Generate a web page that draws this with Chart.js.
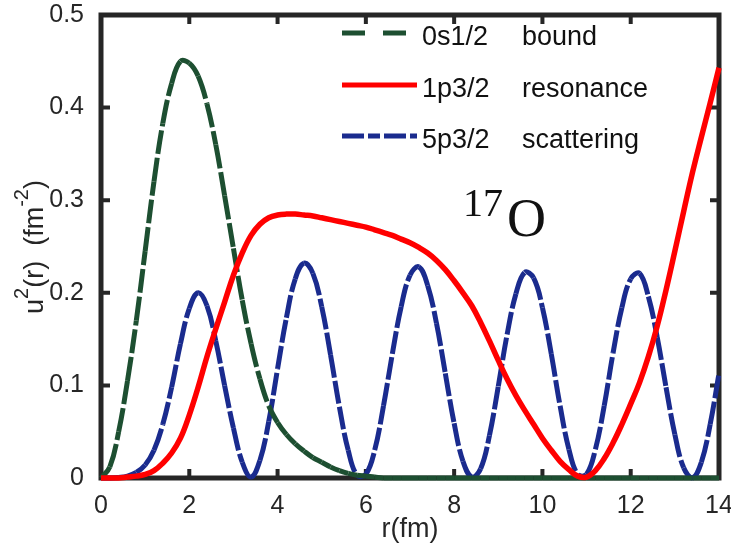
<!DOCTYPE html>
<html>
<head>
<meta charset="utf-8">
<script src="https://cdn.jsdelivr.net/npm/chart.js@4.4.1/dist/chart.umd.min.js"></script>
<style>
html,body{margin:0;padding:0;background:#ffffff;}
#wrap{width:731px;height:544px;position:relative;}
</style>
</head>
<body>
<div id="wrap"><canvas id="chart" width="731" height="544"></canvas></div>
<script>
// ---- data ----
const rValues = [
  0, 0.2, 0.4, 0.6, 0.8, 1.0, 1.2, 1.4, 1.6, 1.8,
  2.0, 2.2, 2.4, 2.6, 2.8, 3.0, 3.2, 3.4, 3.6, 3.8,
  4.0, 4.2, 4.4, 4.6, 4.8, 5.0, 5.2, 5.4, 5.6, 5.8,
  6.0, 6.2, 6.4, 6.6, 6.8, 7.0, 7.2, 7.4, 7.6, 7.8,
  8.0, 8.2, 8.4, 8.6, 8.8, 9.0, 9.2, 9.4, 9.6, 9.8,
  10.0, 10.2, 10.4, 10.6, 10.8, 11.0, 11.2, 11.4, 11.6, 11.8,
  12.0, 12.2, 12.4, 12.6, 12.8, 13.0, 13.2, 13.4, 13.6, 13.8,
  14.0
];
// 0s1/2 bound
const boundValues = [
  0, 0.012, 0.05, 0.105, 0.17, 0.245, 0.32, 0.383, 0.426, 0.450,
  0.448, 0.434, 0.404, 0.36, 0.305, 0.248, 0.192, 0.145, 0.107, 0.078,
  0.06, 0.047, 0.037, 0.029, 0.022, 0.017, 0.012, 0.008, 0.005, 0.003,
  0.002, 0.001, 0, 0, 0, 0, 0, 0, 0, 0,
  0, 0, 0, 0, 0, 0, 0, 0, 0, 0,
  0, 0, 0, 0, 0, 0, 0, 0, 0, 0,
  0, 0, 0, 0, 0, 0, 0, 0, 0, 0,
  0
];
// 1p3/2 resonance
const resonanceValues = [
  0, 0, 0, 0.001, 0.002, 0.004, 0.008, 0.016, 0.027, 0.043,
  0.068, 0.098, 0.131, 0.161, 0.19, 0.219, 0.243, 0.262, 0.274, 0.281,
  0.284, 0.285, 0.285, 0.284, 0.283, 0.281, 0.279, 0.277, 0.275, 0.273,
  0.271, 0.268, 0.265, 0.262, 0.258, 0.254, 0.249, 0.243, 0.235, 0.225,
  0.213, 0.200, 0.186, 0.168, 0.148, 0.127, 0.107, 0.089, 0.073, 0.058,
  0.043, 0.03, 0.018, 0.009, 0.002, 0.001, 0.008, 0.021, 0.038, 0.058,
  0.08, 0.103, 0.131, 0.164, 0.203, 0.245, 0.288, 0.33, 0.368, 0.405,
  0.443
];
// 5p3/2 scattering
const scatteringValues = [
  0, 0, 0.0005, 0.002, 0.006, 0.014, 0.03, 0.058, 0.098, 0.145,
  0.183, 0.2, 0.186, 0.148, 0.1, 0.054, 0.017, 0.001, 0.019, 0.061,
  0.118, 0.173, 0.215, 0.232, 0.221, 0.185, 0.133, 0.077, 0.03, 0.003,
  0.004, 0.03, 0.078, 0.134, 0.185, 0.219, 0.228, 0.208, 0.167, 0.113,
  0.059, 0.018, 0.001, 0.01, 0.046, 0.099, 0.155, 0.199, 0.222, 0.216,
  0.184, 0.134, 0.078, 0.031, 0.004, 0.004, 0.031, 0.078, 0.135, 0.184,
  0.215, 0.221, 0.196, 0.152, 0.098, 0.047, 0.011, 0, 0.017, 0.058,
  0.113
];
const xTickValues = [0, 2, 4, 6, 8, 10, 12, 14];
const yTickValues = [0, 0.1, 0.2, 0.3, 0.4, 0.5];
const seriesStates = ['0s1/2', '1p3/2', '5p3/2'];
const seriesKinds = ['bound', 'resonance', 'scattering'];
const xTitleText = 'r(fm)';
const annotationMass = '17';
const annotationSymbol = 'O';

// ---- styles ----
const GREEN = '#1d4f31';
const RED = '#ff0000';
const BLUE = '#1a2b8e';
const INK = '#262626';
const SANS = "'Liberation Sans', Arial, sans-serif";
const SERIF = "'Liberation Serif', 'Times New Roman', serif";

function pts(vals) { return rValues.map((r, i) => ({ x: r, y: vals[i] })); }
// restart dash pattern at each data vertex (as in the original rendering)
const restartDash = { borderDashOffset: c => (c.p0DataIndex % 2) * 0.01 };

const datasets = [
  { label: seriesStates[0] + ' ' + seriesKinds[0], data: pts(boundValues), borderColor: GREEN,
    borderWidth: 5, borderDash: [24, 4], legendDash: [23, 18], segment: restartDash, order: 1 },
  { label: seriesStates[1] + ' ' + seriesKinds[1], data: pts(resonanceValues), borderColor: RED,
    borderWidth: 5.5, borderDash: [], legendDash: [], order: 0 },
  { label: seriesStates[2] + ' ' + seriesKinds[2], data: pts(scatteringValues), borderColor: BLUE,
    borderWidth: 5, borderDash: [23, 3.5], legendDash: [22, 4, 12, 4], segment: restartDash, order: 2 }
].map(d => Object.assign({ pointRadius: 0, fill: false, tension: 0.4, clip: false, borderCapStyle: 'butt' }, d));

function drawRuns(ctx, runs, x, y) {
  let total = 0;
  runs.forEach(r => { ctx.font = r.font; r.w = ctx.measureText(r.t).width; total += r.w; });
  let cx = x - total / 2;
  runs.forEach(r => { ctx.font = r.font; ctx.fillText(r.t, cx, y - (r.rise || 0)); cx += r.w; });
}

const framePlugin = {
  id: 'frame',
  beforeDatasetsDraw(chart) {
    const { ctx, chartArea: a, scales: { x, y } } = chart;
    ctx.save();
    ctx.strokeStyle = INK;
    ctx.lineWidth = 5;
    ctx.lineCap = 'butt';
    ctx.strokeRect(a.left, a.top, a.right - a.left, a.bottom - a.top);
    ctx.lineWidth = 4;
    const L = 9;
    ctx.beginPath();
    xTickValues.slice(1, -1).forEach(v => {
      const p = x.getPixelForValue(v);
      ctx.moveTo(p, a.bottom); ctx.lineTo(p, a.bottom - L);
      ctx.moveTo(p, a.top); ctx.lineTo(p, a.top + L);
    });
    yTickValues.slice(1, -1).forEach(v => {
      const p = y.getPixelForValue(v);
      ctx.moveTo(a.left, p); ctx.lineTo(a.left + L, p);
      ctx.moveTo(a.right, p); ctx.lineTo(a.right - L, p);
    });
    ctx.stroke();
    ctx.restore();
  },
  afterDraw(chart) {
    const { ctx, chartArea: a } = chart;
    ctx.save();
    ctx.fillStyle = INK;
    ctx.textBaseline = 'alphabetic';
    ctx.textAlign = 'left';
    // x title
    drawRuns(ctx, [{ t: xTitleText, font: '27px ' + SANS }], (a.left + a.right) / 2, 537);
    // y title (rotated, with superscripts)
    ctx.save();
    ctx.translate(43, 247);
    ctx.rotate(-Math.PI / 2);
    drawRuns(ctx, [
      { t: 'u', font: '27px ' + SANS },
      { t: '2', font: '20px ' + SANS, rise: 15 },
      { t: '(r)  (fm', font: '27px ' + SANS },
      { t: '-2', font: '20px ' + SANS, rise: 15 },
      { t: ')', font: '27px ' + SANS }
    ], 0, 0);
    ctx.restore();
    // legend
    const rowsY = [33, 85, 136];
    chart.data.datasets.forEach((d, i) => {
      const yy = rowsY[i];
      ctx.save();
      ctx.strokeStyle = d.borderColor;
      ctx.lineWidth = 5;
      ctx.setLineDash(d.legendDash);
      ctx.beginPath();
      ctx.moveTo(342, yy); ctx.lineTo(417, yy);
      ctx.stroke();
      ctx.restore();
      ctx.font = '27px ' + SANS;
      ctx.fillStyle = '#111111';
      ctx.fillText(seriesStates[i], 422, yy + 12);
      ctx.fillText(seriesKinds[i], 522, yy + 12);
    });
    // 17O annotation
    ctx.fillStyle = '#111111';
    ctx.font = '40px ' + SERIF;
    ctx.fillText(annotationMass, 463, 216);
    ctx.font = '54px ' + SERIF;
    ctx.fillText(annotationSymbol, 507, 236);
    ctx.restore();
  }
};

new Chart(document.getElementById('chart'), {
  type: 'line',
  data: { datasets },
  options: {
    responsive: false,
    animation: false,
    devicePixelRatio: 1,
    layout: { padding: { left: 0, right: 12, top: 15, bottom: 0 } },
    plugins: { legend: { display: false }, tooltip: { enabled: false }, title: { display: false } },
    scales: {
      x: {
        type: 'linear', min: 0, max: 14,
        afterBuildTicks: s => { s.ticks = xTickValues.map(v => ({ value: v })); },
        afterFit: s => { s.height = 66; s.paddingLeft = 0; s.paddingRight = 0; },
        ticks: { color: INK, font: { family: SANS, size: 25 }, padding: 5, autoSkip: false, maxRotation: 0,
                 callback: v => String(v) },
        grid: { display: false },
        border: { display: false }
      },
      y: {
        type: 'linear', min: 0, max: 0.5,
        afterBuildTicks: s => { s.ticks = yTickValues.map(v => ({ value: v })); },
        afterFit: s => { s.width = 101; s.paddingTop = 0; s.paddingBottom = 0; },
        ticks: { color: INK, font: { family: SANS, size: 25 }, padding: 9, autoSkip: false,
                 callback: v => (v === 0 ? '0' : Number(v).toFixed(1)) },
        grid: { display: false },
        border: { display: false }
      }
    }
  },
  plugins: [framePlugin]
});
</script>
</body>
</html>
